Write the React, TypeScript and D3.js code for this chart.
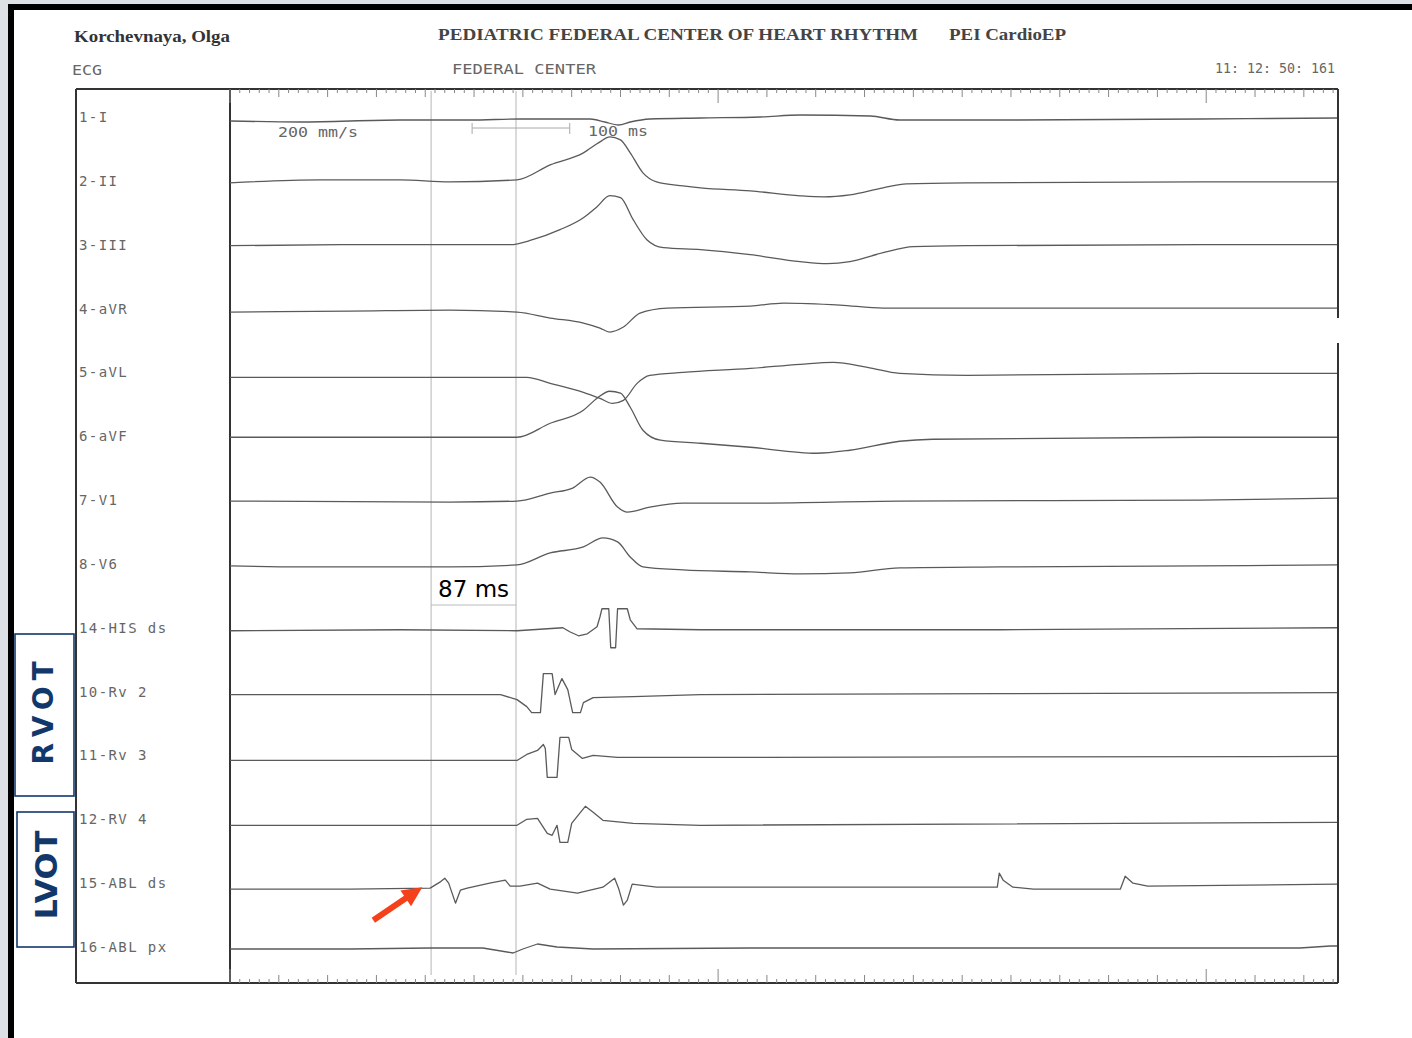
import React, { useEffect, useRef } from 'react';
import * as d3 from 'd3';

// channel names, top to bottom
const channels = [
  '1-I', '2-II', '3-III', '4-aVR', '5-aVL', '6-aVF', '7-V1', '8-V6',
  '14-HIS ds', '10-Rv 2', '11-Rv 3', '12-RV 4', '15-ABL ds', '16-ABL px',
];

// [time ms, amplitude mV]
const leadI = [[0,-0.1],[72,-0.2],[174,0],[246,0],[297,0.1],[369,0.1],[384,-0.2],[398,-0.5],[410,-0.2],[430,0.1],[482,0.2],[543,0.3],[584,0.5],[656,0.4],[686,0],[789,0],[994,0.1],[1134,0.2]];
const leadII = [[0,0.1],[92,0.4],[174,0.4],[225,0.2],[294,0.4],[328,1.9],[362,3.1],[379,4.2],[389,4.7],[400,4.4],[410,3.1],[423,1.1],[437,0.2],[464,-0.2],[482,-0.4],[533,-0.7],[584,-1.2],[608,-1.3],[635,-1.1],[669,-0.4],[693,0],[755,0.1],[994,0.2],[1134,0.2]];
const leadIII = [[0,0.2],[123,0.3],[225,0.3],[287,0.3],[310,0.8],[338,1.8],[362,3.0],[376,4.1],[389,5.2],[400,5.0],[413,2.8],[427,0.8],[444,0],[482,-0.2],[533,-0.7],[584,-1.4],[612,-1.6],[635,-1.4],[669,-0.5],[700,0.1],[755,0.2],[994,0.3],[1134,0.3]];
const leadAVR = [[0,-0.05],[123,0.05],[225,0.15],[294,-0.05],[328,-0.65],[362,-1.15],[379,-1.65],[389,-2.05],[403,-1.55],[420,-0.15],[448,0.35],[533,0.55],[567,0.85],[625,0.65],[669,0.35],[994,0.35],[1134,0.35]];
const leadAVL = [[0,-0.2],[225,-0.2],[304,-0.2],[328,-0.8],[362,-1.7],[379,-2.3],[392,-2.8],[403,-2.5],[417,-0.8],[430,0],[464,0.3],[533,0.7],[584,1.1],[618,1.3],[653,0.8],[686,0.2],[755,0],[994,0.2],[1134,0.2]];
const leadAVF = [[0,0.2],[225,0.2],[294,0.2],[328,1.6],[362,2.9],[376,4.1],[389,4.8],[400,4.6],[410,3.2],[423,0.9],[441,-0.1],[482,-0.4],[533,-0.8],[601,-1.4],[635,-1.1],[686,-0.2],[720,0],[994,0.2],[1134,0.2]];
const leadV1 = [[0,0.2],[225,0.1],[294,0.2],[328,1.0],[351,1.5],[369,2.6],[379,2.1],[397,-0.4],[407,-0.9],[430,-0.4],[464,0],[533,0],[686,0.2],[994,0.3],[1134,0.5]];
const leadV6 = [[0,0.1],[72,0],[225,0],[294,0.2],[328,1.4],[362,2.0],[382,2.9],[397,2.5],[410,1.0],[423,0],[464,-0.3],[533,-0.5],[584,-0.7],[635,-0.6],[686,-0.1],[789,0],[994,0.1],[1134,0.2]];
const hisDs = [[0,0],[174,0.1],[294,0],[341,0.3],[348,-0.1],[357,-0.5],[366,-0.3],[376,0.4],[379,1.4],[381,2.2],[388,2.2],[390,-1.7],[395,-1.7],[397,2.2],[407,2.2],[410,1.1],[417,0.2],[482,0.1],[789,0.1],[1134,0.3]];
const rv2 = [[0,0],[174,0],[277,0],[294,-0.5],[304,-1.2],[309,-1.8],[318,-1.8],[321,2.1],[330,2.1],[333,0],[340,1.6],[346,0.5],[351,-1.8],[359,-1.8],[362,-0.8],[372,-0.3],[413,-0.2],[482,0],[789,0.1],[1134,0.2]];
const rv3 = [[0,-0.2],[174,-0.2],[294,-0.2],[304,0.4],[315,0.8],[321,1.4],[323,1.0],[325,-1.9],[335,-1.9],[338,2.1],[347,2.1],[350,0.9],[361,0],[372,0.3],[397,0.1],[482,0.1],[1134,0.2]];
const rv4 = [[0,-0.3],[174,-0.3],[294,-0.3],[304,0.3],[315,0.4],[325,-1.1],[330,-1.3],[335,-0.3],[338,-2.0],[346,-2.0],[350,-0.1],[359,1.0],[364,1.6],[372,1.0],[382,0.2],[413,-0.1],[482,-0.3],[1134,0]];
const ablDs = [[0,-0.3],[123,-0.3],[205,-0.2],[215,0.4],[220,0.8],[224,0.3],[231,-1.7],[236,-0.4],[243,-0.2],[266,0.3],[282,0.6],[287,0],[297,0],[315,0.3],[328,-0.3],[356,-0.7],[382,-0.1],[394,0.8],[398,-0.2],[403,-1.9],[407,-1.4],[412,0.2],[420,0.1],[437,-0.1],[533,-0.1],[686,-0.1],[786,-0.1],[788,1.3],[792,0.6],[802,-0.1],[823,-0.3],[912,-0.3],[917,1.0],[925,0.3],[940,0],[1134,0.2]];
const ablPx = [[0,0.1],[123,0.1],[205,0.2],[259,0.2],[290,-0.3],[300,0.1],[315,0.6],[335,0.3],[372,0.1],[533,0.2],[1096,0.2],[1127,0.4],[1134,0.4]];

const signals = [leadI, leadII, leadIII, leadAVR, leadAVL, leadAVF, leadV1, leadV6, hisDs, rv2, rv3, rv4, ablDs, ablPx];

// calipers (ms)
const calipers = [206, 293];
const scaleBar = [248, 348];
const arrowTime = 197;

function App() {
  const ref = useRef(null);
  const width = 1412;
  const height = 1038;
  const frame = { left: 76, split: 230, right: 1338, top: 89, bottom: 983 };

  useEffect(() => {
    const svg = d3.select(ref.current);
    svg.selectAll('*').remove();

    const x = d3.scaleLinear().domain([0, 1135]).range([frame.split, frame.right]);
    const row = d3.scalePoint().domain(channels).range([120, 950]);
    const amp = d3.scaleLinear().domain([0, 1]).range([0, -10]);

    const mono = '"DejaVu Sans Mono", monospace';
    const serif = '"Liberation Serif", "Times New Roman", serif';

    // page
    svg.append('rect').attr('width', width).attr('height', height).attr('fill', '#dde1e6');
    svg.append('rect').attr('x', 8).attr('y', 4).attr('width', width - 8).attr('height', height - 4).attr('fill', '#000');
    svg.append('rect').attr('x', 14).attr('y', 10).attr('width', width - 14).attr('height', height - 10).attr('fill', '#fff');

    // header
    svg.append('text').attr('x', 74).attr('y', 42).attr('textLength', 156).attr('lengthAdjust', 'spacingAndGlyphs')
      .style('font-family', serif).style('font-weight', 'bold').style('font-size', '17px').attr('fill', '#333')
      .text('Korchevnaya, Olga');
    svg.append('text').attr('x', 438).attr('y', 40).attr('textLength', 480).attr('lengthAdjust', 'spacingAndGlyphs')
      .style('font-family', serif).style('font-weight', 'bold').style('font-size', '16px').attr('fill', '#444')
      .text('PEDIATRIC FEDERAL CENTER OF HEART RHYTHM');
    svg.append('text').attr('x', 949).attr('y', 40).attr('textLength', 117).attr('lengthAdjust', 'spacingAndGlyphs')
      .style('font-family', serif).style('font-weight', 'bold').style('font-size', '16px').attr('fill', '#444')
      .text('PEI CardioEP');

    const monoText = (tx, ty, str, len) => {
      const t = svg.append('text').attr('x', tx).attr('y', ty)
        .style('font-family', mono).style('font-size', '14px').attr('fill', '#666').text(str);
      if (len) t.attr('textLength', len).attr('lengthAdjust', 'spacingAndGlyphs');
      return t;
    };
    monoText(72, 75, 'ECG', 30);
    monoText(452, 74, 'FEDERAL CENTER', 144);
    monoText(1215, 73, '11: 12: 50: 161', 120);

    // frame
    const g = svg.append('g').attr('fill', 'none').attr('stroke', '#333').attr('stroke-width', 2);
    g.append('line').attr('x1', frame.left).attr('x2', frame.right).attr('y1', frame.top).attr('y2', frame.top);
    g.append('line').attr('x1', frame.left).attr('x2', frame.right).attr('y1', frame.bottom).attr('y2', frame.bottom);
    g.append('line').attr('x1', frame.left).attr('x2', frame.left).attr('y1', frame.top).attr('y2', frame.bottom);
    g.append('line').attr('x1', frame.split).attr('x2', frame.split).attr('y1', frame.top).attr('y2', frame.bottom);
    g.append('line').attr('x1', frame.right).attr('x2', frame.right).attr('y1', frame.top).attr('y2', 318);
    g.append('line').attr('x1', frame.right).attr('x2', frame.right).attr('y1', 343).attr('y2', frame.bottom);

    // time rulers
    const ticks = d3.range(0, 1135, 10);
    const tickLen = (t) => (t % 500 === 0 ? 13 : t % 50 === 0 ? 7 : 3);
    svg.append('g').selectAll('line.top').data(ticks).join('line')
      .attr('x1', (d) => x(d)).attr('x2', (d) => x(d))
      .attr('y1', frame.top).attr('y2', (d) => frame.top + 1 + tickLen(d))
      .attr('stroke', '#888').attr('stroke-width', 1);
    svg.append('g').selectAll('line.bot').data(ticks).join('line')
      .attr('x1', (d) => x(d)).attr('x2', (d) => x(d))
      .attr('y1', frame.bottom).attr('y2', (d) => frame.bottom - 1 - tickLen(d))
      .attr('stroke', '#888').attr('stroke-width', 1);

    // caliper lines
    svg.append('g').selectAll('line').data(calipers).join('line')
      .attr('x1', (d) => x(d)).attr('x2', (d) => x(d))
      .attr('y1', frame.top + 2).attr('y2', frame.bottom - 8)
      .attr('stroke', '#b5b5b5').attr('stroke-width', 1);

    // scale bar
    const sb = svg.append('g').attr('stroke', '#aaa').attr('stroke-width', 1);
    sb.append('line').attr('x1', x(scaleBar[0])).attr('x2', x(scaleBar[1])).attr('y1', 128).attr('y2', 128);
    sb.append('line').attr('x1', x(scaleBar[0])).attr('x2', x(scaleBar[0])).attr('y1', 123).attr('y2', 134);
    sb.append('line').attr('x1', x(scaleBar[1])).attr('x2', x(scaleBar[1])).attr('y1', 123).attr('y2', 134);
    monoText(278, 137, '200 mm/s', 80);
    monoText(588, 136, '100 ms', 60);

    // channel labels
    svg.append('g').selectAll('text').data(channels).join('text')
      .attr('x', 79).attr('y', (d) => row(d) + 2)
      .style('font-family', mono).style('font-size', '14px').attr('fill', '#666')
      .attr('letter-spacing', 1.4)
      .text((d) => d);

    // traces
    signals.forEach((pts, i) => {
      const base = row(channels[i]);
      const line = d3.line()
        .x((d) => x(d[0]))
        .y((d) => base + amp(d[1]))
        .curve(i < 8 ? d3.curveMonotoneX : d3.curveLinear);
      svg.append('path').datum(pts).attr('d', line)
        .attr('fill', 'none').attr('stroke', '#5a5a5a').attr('stroke-width', 1.3)
        .attr('stroke-linejoin', 'round');
    });

    // 87 ms measurement
    svg.append('line').attr('x1', x(calipers[0])).attr('x2', x(calipers[1])).attr('y1', 605).attr('y2', 605)
      .attr('stroke', '#bbb').attr('stroke-width', 1);
    svg.append('text').attr('x', x((calipers[0] + calipers[1]) / 2)).attr('y', 597)
      .attr('text-anchor', 'middle').style('font-family', '"DejaVu Sans", Verdana, sans-serif').style('font-size', '23px')
      .attr('fill', '#000').text(`${calipers[1] - calipers[0]} ms`);

    // red arrow
    const tip = [x(arrowTime), row('15-ABL ds') + 1];
    const tail = [tip[0] - 49, tip[1] + 33];
    const dx = tip[0] - tail[0], dy = tip[1] - tail[1];
    const len = Math.hypot(dx, dy);
    const u = [dx / len, dy / len];
    const n = [-u[1], u[0]];
    const headLen = 20, shaft = 3, head = 9.5;
    const b = [tip[0] - u[0] * headLen, tip[1] - u[1] * headLen];
    const poly = [
      [tail[0] + n[0] * shaft, tail[1] + n[1] * shaft],
      [b[0] + n[0] * shaft, b[1] + n[1] * shaft],
      [b[0] + n[0] * head, b[1] + n[1] * head],
      tip,
      [b[0] - n[0] * head, b[1] - n[1] * head],
      [b[0] - n[0] * shaft, b[1] - n[1] * shaft],
      [tail[0] - n[0] * shaft, tail[1] - n[1] * shaft],
    ];
    svg.append('polygon').attr('points', poly.map((p) => p.join(',')).join(' ')).attr('fill', '#f5411b');

    // RVOT / LVOT boxes
    const navy = '#12386b';
    svg.append('rect').attr('x', 15).attr('y', 634).attr('width', 59).attr('height', 162)
      .attr('fill', 'none').attr('stroke', navy).attr('stroke-width', 1.6);
    svg.append('rect').attr('x', 17).attr('y', 812).attr('width', 57).attr('height', 135)
      .attr('fill', 'none').attr('stroke', navy).attr('stroke-width', 1.6);
    svg.append('text').attr('transform', 'translate(53,713) rotate(-90)')
      .attr('text-anchor', 'middle').attr('textLength', 103).attr('lengthAdjust', 'spacing')
      .style('font-family', '"DejaVu Sans", Verdana, sans-serif').style('font-weight', 'bold').style('font-size', '28px')
      .attr('fill', navy).text('RVOT');
    svg.append('text').attr('transform', 'translate(57,875) rotate(-90)')
      .attr('text-anchor', 'middle').attr('textLength', 89).attr('lengthAdjust', 'spacingAndGlyphs')
      .style('font-family', '"DejaVu Sans", Verdana, sans-serif').style('font-weight', 'bold').style('font-size', '31px')
      .attr('fill', navy).text('LVOT');
  }, []);

  return (
    <div style={{ position: 'absolute', left: 0, top: 0 }}>
      <svg ref={ref} width={width} height={height} style={{ display: 'block' }} />
    </div>
  );
}

export default App;
